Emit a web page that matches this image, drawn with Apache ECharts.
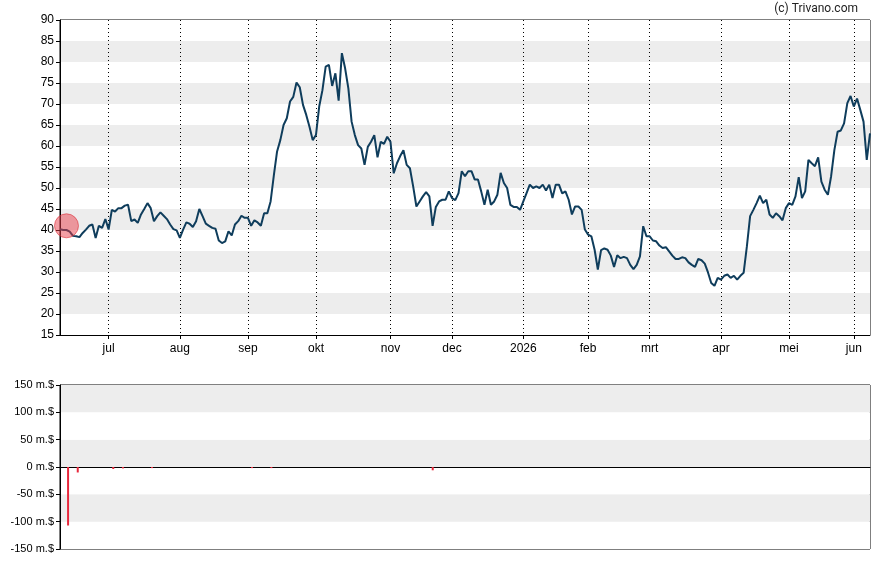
<!DOCTYPE html>
<html>
<head>
    <meta charset="utf-8" />
    <title>Koers</title>
    <script src="https://cdn.jsdelivr.net/npm/echarts@6/dist/echarts.min.js"></script>
    <style>
        body { margin: 0; background: #fff; }
    </style>
</head>
<body>
    <div id="main" style="width: 888px;height:565px;"></div>
    <script type="text/javascript">
        // trading days: weekdays from 2025-06-09 to 2026-06-08, minus US market holidays
        var holidays = ['2025-06-19', '2025-07-04', '2025-09-01', '2025-11-27', '2025-12-25',
            '2026-01-01', '2026-01-19', '2026-02-16', '2026-04-03', '2026-05-25'];
        var monthNames = ['jan', 'feb', 'mrt', 'apr', 'mei', 'jun', 'jul', 'aug', 'sep', 'okt', 'nov', 'dec'];

        var categories = [];
        var d = new Date(Date.UTC(2025, 5, 9));
        var end = new Date(Date.UTC(2026, 5, 8));
        while (d <= end) {
            var s = d.toISOString().slice(0, 10);
            var wd = d.getUTCDay();
            if (wd !== 0 && wd !== 6 && holidays.indexOf(s) < 0) categories.push(s);
            d.setUTCDate(d.getUTCDate() + 1);
        }

        // slotkoers per handelsdag
        var prices = [
            40.2, 40.0, 40.0, 39.6, 38.6, 38.5, 38.3, 39.3, 40.1, 41.0,
            41.3, 38.1, 41.0, 40.5, 42.6, 40.1, 44.8, 44.4, 45.2, 45.2,
            45.8, 46.0, 42.1, 42.5, 41.7, 43.7, 45.0, 46.4, 45.2, 42.1,
            43.3, 44.2, 43.4, 42.6, 41.3, 40.2, 39.9, 38.1, 40.1, 41.8,
            41.5, 40.7, 42.1, 45.0, 43.3, 41.5, 41.0, 40.5, 40.3, 37.5,
            36.9, 37.3, 39.7, 38.7, 41.3, 42.1, 43.4, 42.9, 42.9, 41.0,
            42.3, 41.8, 41.0, 44.0, 44.0, 46.8, 53.0, 58.7, 61.4, 65.0,
            66.6, 70.6, 71.7, 75.1, 74.0, 69.8, 67.4, 64.6, 61.4, 62.6,
            69.4, 73.3, 78.9, 79.3, 74.3, 77.3, 70.8, 82.1, 78.5, 73.7,
            65.8, 62.6, 60.2, 59.4, 55.5, 59.8, 61.0, 62.6, 57.3, 61.0,
            60.5, 62.2, 61.0, 53.5, 55.9, 57.6, 59.0, 55.5, 54.7, 50.4,
            45.6, 46.8, 48.0, 49.0, 48.0, 41.0, 45.5, 46.8, 47.2, 47.2,
            49.2, 47.6, 47.1, 48.8, 54.0, 52.8, 54.0, 54.0, 52.0, 52.0,
            49.2, 46.0, 49.6, 46.0, 46.8, 48.4, 53.6, 51.2, 50.0, 46.0,
            45.5, 45.5, 44.8, 46.8, 48.8, 50.8, 50.0, 50.4, 50.0, 50.8,
            49.4, 50.8, 47.6, 50.8, 50.8, 48.7, 49.2, 47.2, 43.7, 45.6,
            45.6, 44.8, 40.1, 38.9, 38.5, 35.3, 30.6, 35.2, 35.6, 35.3,
            33.9, 31.2, 34.0, 33.3, 33.6, 33.3, 31.7, 30.7, 31.7, 33.7,
            40.9, 38.5, 38.5, 37.5, 37.3, 36.3, 35.7, 35.9, 34.9, 33.9,
            33.1, 33.1, 33.5, 33.3, 32.3, 31.7, 31.2, 33.1, 32.8, 32.0,
            29.9, 27.4, 26.7, 28.6, 28.2, 29.1, 29.4, 28.6, 29.1, 28.2,
            29.1, 29.8, 36.1, 43.3, 44.8, 46.4, 48.2, 46.4, 47.2, 43.7,
            42.9, 44.0, 43.3, 42.3, 45.2, 46.4, 46.0, 48.0, 52.6, 47.6,
            49.2, 56.7, 55.9, 55.2, 57.3, 51.5, 49.6, 48.4, 52.8, 59.0,
            63.4, 63.7, 65.4, 70.2, 71.9, 69.4, 71.3, 68.6, 65.8, 56.7, 63.0
        ];

        // insider transacties (miljoen $), per handelsdag-index
        var flowIndex = [2, 5, 16, 19, 28, 59, 65, 115];
        var flowValue = [-107, -10, -3.7, -2.6, -2, -2, -2, -6];

        var markerIndex = 2;
        var markerValue = 41;

        var priceTicks = { min: 15, max: 90, step: 5 };
        var flowTicks = { min: -150, max: 150, step: 50 };

        function isMonthStart(index) {
            if (index === 0) return false;
            return categories[index].slice(5, 7) !== categories[index - 1].slice(5, 7);
        }
        function monthLabel(value) {
            var m = parseInt(value.slice(5, 7), 10);
            return m === 1 ? value.slice(0, 4) : monthNames[m - 1];
        }

        var flowData = flowIndex.map(function (idx, k) {
            return [categories[idx], flowValue[k]];
        });

        var myChart = echarts.init(document.getElementById('main'));
        var font = 'Arial';
        var bands = ['#ffffff', '#ededed'];

        var option = {
            animation: false,
            backgroundColor: '#fff',
            graphic: [{
                type: 'text',
                right: 30,
                top: 3,
                style: { text: '(c) Trivano.com', font: '12px Roboto', fill: '#222' }
            }],
            grid: [
                { left: 60, right: 18, top: 20, height: 315, show: true, borderColor: '#000', borderWidth: 1 },
                { left: 60, right: 18, top: 385, height: 164, show: true, borderColor: '#000', borderWidth: 1 }
            ],
            xAxis: [{
                type: 'category',
                gridIndex: 0,
                data: categories,
                boundaryGap: false,
                axisLine: { lineStyle: { color: '#000' } },
                axisTick: { interval: isMonthStart, length: 4, lineStyle: { color: '#000' } },
                axisLabel: {
                    interval: isMonthStart,
                    formatter: monthLabel,
                    color: '#000',
                    fontFamily: font,
                    fontSize: 12,
                    margin: 8
                },
                splitLine: {
                    show: true,
                    interval: isMonthStart,
                    lineStyle: { color: '#000', type: [1, 3], width: 1 }
                }
            }, {
                type: 'category',
                gridIndex: 1,
                data: categories,
                boundaryGap: true,
                axisLine: { onZero: true, lineStyle: { color: '#000' } },
                axisTick: { show: false },
                axisLabel: { show: false },
                splitLine: { show: false }
            }],
            yAxis: [{
                type: 'value',
                gridIndex: 0,
                min: priceTicks.min,
                max: priceTicks.max,
                interval: priceTicks.step,
                axisLine: { show: true, lineStyle: { color: '#000' } },
                axisTick: { show: true, length: 4, lineStyle: { color: '#000' } },
                axisLabel: { color: '#000', fontFamily: font, fontSize: 12, margin: 6 },
                splitLine: { show: false },
                splitArea: { show: true, areaStyle: { color: bands } }
            }, {
                type: 'value',
                gridIndex: 1,
                min: flowTicks.min,
                max: flowTicks.max,
                interval: flowTicks.step,
                axisLine: { show: true, lineStyle: { color: '#000' } },
                axisTick: { show: true, length: 4, lineStyle: { color: '#000' } },
                axisLabel: {
                    color: '#000', fontFamily: font, fontSize: 11, margin: 6,
                    formatter: function (v) { return v + ' m.$'; }
                },
                splitLine: { show: false },
                splitArea: { show: true, areaStyle: { color: bands } }
            }],
            series: [{
                type: 'line',
                xAxisIndex: 0,
                yAxisIndex: 0,
                data: prices,
                symbol: 'none',
                lineStyle: { color: '#0f3d5c', width: 2 },
                z: 3
            }, {
                type: 'scatter',
                xAxisIndex: 0,
                yAxisIndex: 0,
                data: [[categories[markerIndex], markerValue]],
                symbolSize: 24,
                itemStyle: { color: 'rgba(232, 60, 72, 0.62)', borderColor: 'rgba(220, 40, 50, 0.7)', borderWidth: 1 },
                z: 4
            }, {
                type: 'bar',
                xAxisIndex: 1,
                yAxisIndex: 1,
                data: flowData,
                barWidth: 2,
                itemStyle: { color: '#e8283c' }
            }]
        };

        myChart.setOption(option);
    </script>
</body>
</html>
